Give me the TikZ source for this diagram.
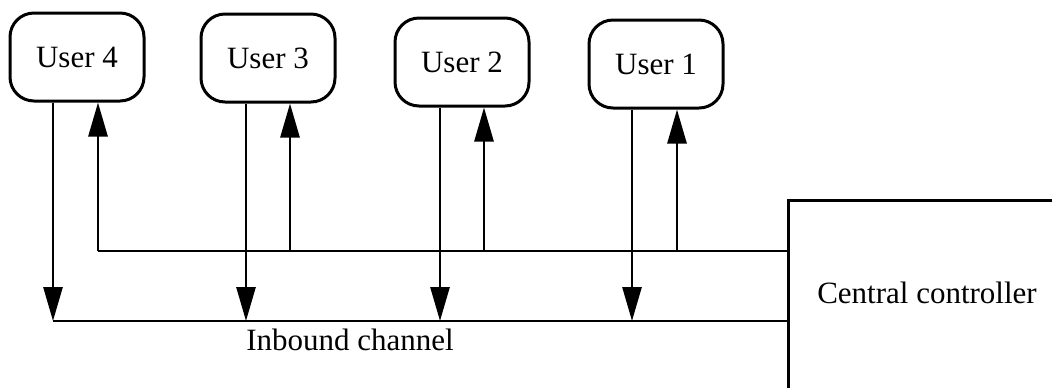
\documentclass[tikz,border=0pt]{standalone}
\usepackage{fontspec}
\setmainfont{Liberation Serif}
\usetikzlibrary{arrows.meta}

\tikzset{
  user/.style={draw, line width=1.5pt, rounded corners=12pt,
    minimum width=67pt, minimum height=44pt, font=\fontsize{15.5}{18}\selectfont},
  arr/.style={line width=1.4pt, -{Triangle[length=17pt,width=9.5pt]}},
  chan/.style={line width=1.4pt},
  lbl/.style={font=\fontsize{15.5}{18}\selectfont}
}

\begin{document}
\begin{tikzpicture}[x=0.5pt,y=-0.5pt]
\useasboundingbox (0,0) rectangle (1052,387);
\clip (0,0) rectangle (1052,387);
% users
\node[user] (u4) at (77,57) {User 4};
\node[user] (u3) at (268,58) {User 3};
\node[user] (u2) at (462,62) {User 2};
\node[user] (u1) at (656,64) {User 1};
% controller, open to the right and below
\node[draw, line width=1.4pt, anchor=north west, minimum width=140pt, minimum height=96pt] (cc) at (787,199) {};
\node[lbl] (cclbl) at (927,293) {Central controller};
% channels
\coordinate (outL) at (98,251);
\coordinate (inL) at (53,321);
\draw[chan] (outL) -- (outL -| cc.west);
\draw[chan] (inL) -- (inL -| cc.west);
\node[lbl] (inlbl) at (350,340) {Inbound channel};
% down to the inbound channel
\draw[arr] ([xshift=-12pt]u4.south) -- ([xshift=-12pt]u4.south |- inL);
\draw[arr] ([xshift=-11pt]u3.south) -- ([xshift=-11pt]u3.south |- inL);
\draw[arr] ([xshift=-11pt]u2.south) -- ([xshift=-11pt]u2.south |- inL);
\draw[arr] ([xshift=-12pt]u1.south) -- ([xshift=-12pt]u1.south |- inL);
% up from the outbound channel
\draw[arr] (outL) -- (outL |- u4.south);
\draw[arr] ([xshift=11pt]u3.south |- outL) -- ([xshift=11pt]u3.south);
\draw[arr] ([xshift=11pt]u2.south |- outL) -- ([xshift=11pt]u2.south);
\draw[arr] ([xshift=10.5pt]u1.south |- outL) -- ([xshift=10.5pt]u1.south);
\end{tikzpicture}
\end{document}
